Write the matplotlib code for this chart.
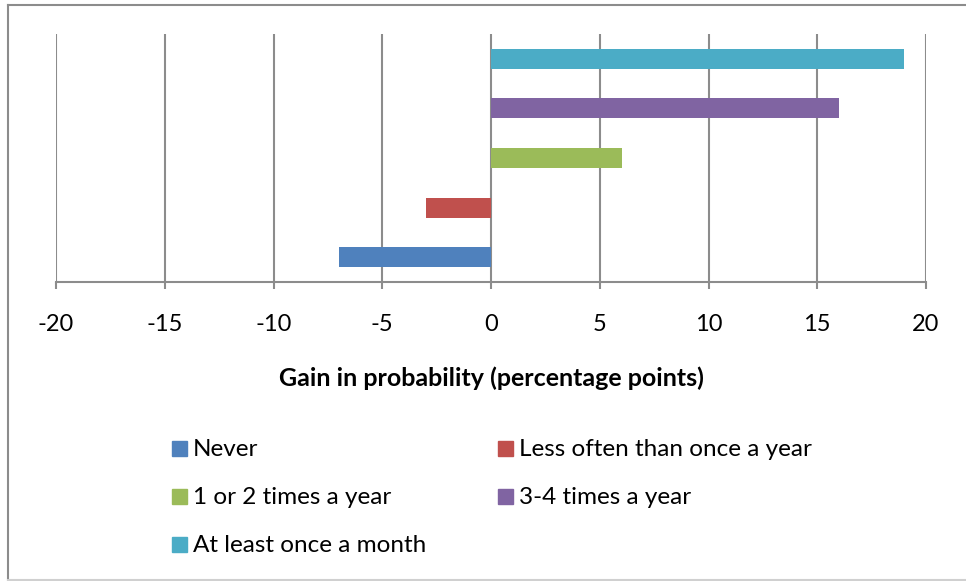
import matplotlib.pyplot as plt
from matplotlib.patches import Rectangle
from matplotlib.lines import Line2D

plt.rcParams['font.family'] = ['Lato', 'DejaVu Sans']

categories = ["Never", "Less often than once a year", "1 or 2 times a year",
              "3-4 times a year", "At least once a month"]
gains = [-7, -3, 6, 16, 19]
colors = ["#4F81BD", "#C0504D", "#9BBB59", "#8064A2", "#4BACC6"]
xticks = [-20, -15, -10, -5, 0, 5, 10, 15, 20]

W, H = 966, 581
fig = plt.figure(figsize=(W / 100, H / 100), dpi=100)

# chart frame
fig.add_artist(Line2D([8 / W, 8 / W], [0, 1 - 5 / H], color="#8c8c8c", lw=1.5))
fig.add_artist(Line2D([8 / W, 1], [1 - 5 / H, 1 - 5 / H], color="#8c8c8c", lw=1.5))
fig.add_artist(Line2D([8 / W, 1], [1.5 / H, 1.5 / H], color="#d0d0d0", lw=1.5))

ax = fig.add_axes([56 / W, 1 - 282 / H, 870 / W, 248 / H])
ypos = list(range(len(categories)))
ax.barh(ypos, gains, height=0.4, color=colors, zorder=3)

ax.set_xlim(-20, 20)
ax.set_ylim(-0.5, len(categories) - 0.5)
ax.set_xticks(xticks)
ax.set_xticklabels([str(t) for t in xticks], fontsize=17)
ax.set_yticks([])
ax.grid(axis="x", color="#8c8c8c", lw=1.5, zorder=0)
for s in ["top", "right", "left"]:
    ax.spines[s].set_visible(False)
ax.spines["bottom"].set_color("#8c8c8c")
ax.spines["bottom"].set_linewidth(1.5)
ax.tick_params(axis="x", length=5, width=1.5, color="#8c8c8c", pad=18)
ax.set_xlabel("Gain in probability (percentage points)", fontsize=18,
              fontweight="bold", labelpad=23)

# legend laid out in two columns
for i, (name, c) in enumerate(zip(categories, colors)):
    col, row = i % 2, i // 2
    x0 = [172, 498][col]
    yc = 449 + row * 48
    fig.add_artist(Rectangle((x0 / W, 1 - (yc + 7) / H), 15 / W, 15 / H,
                             color=c, transform=fig.transFigure))
    fig.text((x0 + 21) / W, 1 - (yc + 1) / H, name, fontsize=17.5, va="center", ha="left")

fig.savefig("out.png", dpi=100)
